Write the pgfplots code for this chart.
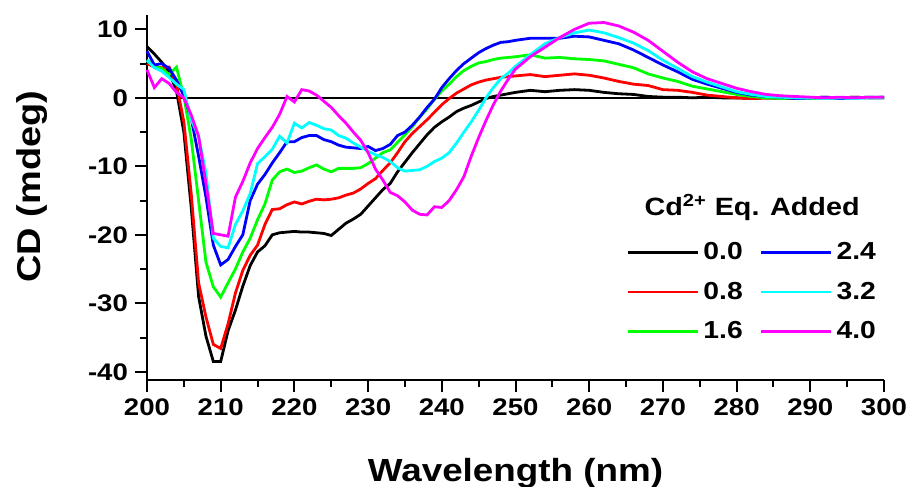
\documentclass[border=0pt]{standalone}
\usepackage{fontspec}
\setmainfont{Liberation Sans}[FakeStretch=1.15]
\usepackage{pgfplots}
\pgfplotsset{compat=1.18}
\usepackage{pgfplotstable}
\definecolor{cdred}{RGB}{255,0,0}
\definecolor{cdgreen}{RGB}{0,255,0}
\definecolor{cdblue}{RGB}{0,0,255}
\definecolor{cdcyan}{RGB}{0,255,255}
\definecolor{cdmag}{RGB}{255,0,255}

\pgfplotstableread{
x a b c d e f
200 7.5 5.0 5.5 6.8 5.5 4.1
201 6.4 4.5 4.6 4.8 4.4 1.5
202 5.2 4.4 4.3 5.0 3.9 2.8
203 3.8 4.5 3.4 4.3 3.0 2.1
204 1.0 2.0 4.5 2.6 2.0 0.8
205 -5.0 -3.5 0.2 0.3 1.2 0.0
206 -16.0 -14.0 -6.0 -3.0 -3.2 -2.5
207 -29.0 -27.0 -15.0 -8.5 -5.6 -5.6
208 -34.8 -32.0 -24.0 -14.5 -11.0 -12.5
209 -38.5 -36.0 -27.6 -21.5 -20.5 -19.8
210 -38.5 -36.6 -29.1 -24.4 -21.7 -20.0
211 -34.0 -33.0 -27.0 -23.6 -21.9 -20.2
212 -31.0 -28.5 -25.0 -21.7 -18.5 -14.5
213 -27.5 -25.2 -22.5 -20.0 -16.5 -12.2
214 -24.5 -23.0 -20.5 -15.0 -14.0 -9.5
215 -22.5 -21.5 -17.8 -12.6 -9.6 -7.4
216 -21.6 -18.5 -15.5 -11.2 -8.6 -5.8
217 -20.0 -16.3 -12.0 -9.5 -7.5 -4.3
218 -19.7 -16.2 -10.8 -8.0 -5.6 -2.4
219 -19.6 -15.6 -10.4 -6.4 -6.6 0.2
220 -19.5 -15.2 -10.9 -6.4 -3.7 -0.6
221 -19.6 -15.5 -10.7 -5.8 -4.4 1.2
222 -19.6 -15.1 -10.2 -5.5 -3.6 1.0
223 -19.7 -14.8 -9.8 -5.5 -4.0 0.4
224 -19.8 -14.9 -10.4 -6.1 -4.5 -0.5
225 -20.1 -14.8 -10.8 -6.4 -4.7 -1.4
226 -19.2 -14.6 -10.3 -6.9 -5.5 -2.6
227 -18.3 -14.2 -10.3 -7.2 -5.9 -3.7
228 -17.7 -13.9 -10.3 -7.3 -6.6 -5.0
229 -17.0 -13.3 -10.2 -7.4 -7.2 -6.2
230 -15.8 -12.5 -9.6 -7.1 -7.8 -8.0
231 -14.6 -11.8 -8.8 -7.7 -8.3 -10.4
232 -13.4 -10.6 -8.0 -7.4 -8.7 -12.0
233 -12.5 -9.5 -7.6 -6.8 -9.3 -13.8
234 -10.8 -8.0 -6.5 -5.5 -10.2 -14.3
235 -9.4 -6.4 -5.4 -5.0 -10.7 -15.2
236 -8.0 -5.2 -4.2 -4.0 -10.6 -16.4
237 -6.7 -4.2 -2.8 -2.8 -10.5 -17.0
238 -5.4 -3.2 -1.6 -1.4 -10.0 -17.1
239 -4.3 -2.1 -0.2 -0.2 -9.3 -15.9
240 -3.5 -1.0 1.0 1.5 -8.8 -16.0
241 -2.8 -0.1 2.0 2.8 -8.0 -15.0
242 -2.0 0.7 3.1 4.0 -6.6 -13.4
243 -1.5 1.3 4.0 5.0 -5.0 -11.5
244 -1.1 1.9 4.6 5.8 -3.5 -8.5
245 -0.6 2.3 5.1 6.6 -1.8 -5.8
246 -0.1 2.6 5.3 7.2 0.0 -3.3
247 0.2 2.8 5.6 7.7 1.5 -1.0
248 0.4 3.0 5.8 8.1 2.8 1.0
249 0.6 3.1 5.9 8.2 3.6 2.7
250 0.8 3.2 6.0 8.4 4.6 4.2
252 1.1 3.4 6.3 8.7 6.3 6.0
254 0.9 3.1 5.8 8.7 7.9 7.4
256 1.1 3.3 5.9 8.7 8.8 8.8
258 1.2 3.5 5.7 9.0 9.5 10.0
260 1.1 3.3 5.6 8.9 9.9 10.9
262 0.8 2.9 5.4 8.4 9.5 11.0
264 0.6 2.4 4.9 7.9 8.8 10.5
266 0.5 2.0 4.4 7.0 8.0 9.6
268 0.2 1.8 3.5 5.9 6.9 8.4
270 0.1 1.2 2.9 4.8 5.5 6.8
272 0.1 1.1 2.4 3.8 4.3 5.2
274 0.0 0.8 1.7 2.7 3.1 3.8
276 0.1 0.4 1.3 2.0 2.3 2.8
278 0.0 0.2 0.9 1.4 1.6 2.1
280 0.0 0.0 0.5 0.8 0.9 1.4
282 -0.1 -0.1 0.2 0.4 0.5 0.9
284 0.0 0.0 0.0 0.2 0.2 0.5
286 0.0 -0.1 -0.1 0.1 0.1 0.3
288 -0.1 0.0 0.0 -0.1 0.0 0.2
290 0.0 0.0 -0.1 0.0 0.0 0.1
292 0.1 -0.1 0.0 0.1 -0.1 0.0
294 0.0 0.0 0.0 -0.1 0.0 0.1
296 0.1 0.1 0.0 0.0 -0.1 0.0
298 0.0 0.0 0.1 0.1 0.0 0.1
300 0.1 0.0 0.0 0.1 0.0 0.1
}\cdtable

\begin{document}
\begin{tikzpicture}
\useasboundingbox (-73.5pt,-53.5pt) rectangle (381.5pt,190pt);
\begin{axis}[
  scale only axis, width=368.5pt, height=182.5pt,
  xmin=200, xmax=300, ymin=-41.2, ymax=12.1,
  axis lines*=left,
  axis line style={line width=1pt, black, -},
  xtick={200,210,...,300}, ytick={-40,-30,...,10},
  minor x tick num=1, minor y tick num=1,
  tick align=outside, major tick length=6pt, minor tick length=3.5pt,
  every tick/.style={line width=1pt, black},
  /pgf/number format/assume math mode=true,
  tick label style={font=\fontsize{12}{14}\selectfont\bfseries},
  xlabel={Wavelength (nm)}, ylabel={CD (mdeg)},
  every axis x label/.style={at={(axis description cs:0.5,-0.279)}, anchor=base,
    font=\fontsize{16}{19}\selectfont\bfseries},
  every axis y label/.style={at={(axis description cs:-0.156,0.53)}, rotate=90, anchor=center,
    font=\fontsize{16.5}{19}\selectfont\bfseries},
  legend columns=3, transpose legend,
  legend cell align=left,
  legend image code/.code={\draw[#1] (0pt,0pt) -- (35pt,0pt);},
  legend style={draw=none, fill=none, at={(axis description cs:0.995,0.388)}, anchor=north east,
    font=\fontsize{12.3}{14}\selectfont\bfseries, inner sep=0pt, row sep=5.5pt,
    nodes={inner sep=2pt},
    /tikz/every even column/.append style={column sep=6.5pt}},
  clip=false,
]
\addplot[black, line width=1.2pt, forget plot] coordinates {(200,0) (300,0)};
\addplot[black, line width=1.4pt] table[x=x,y=a] {\cdtable};
\addplot[cdred, line width=1.4pt] table[x=x,y=b] {\cdtable};
\addplot[cdgreen, line width=1.4pt] table[x=x,y=c] {\cdtable};
\addplot[cdblue, line width=1.4pt] table[x=x,y=d] {\cdtable};
\addplot[cdcyan, line width=1.4pt] table[x=x,y=e] {\cdtable};
\addplot[cdmag, line width=1.4pt] table[x=x,y=f] {\cdtable};
\legend{0.0,0.8,1.6,2.4,3.2,4.0}
\node[font=\fontsize{12.5}{14}\selectfont\bfseries] at (axis cs:282.1,-16.06) {Cd\textsuperscript{2+} Eq. Added};
\end{axis}
\end{tikzpicture}
\end{document}
